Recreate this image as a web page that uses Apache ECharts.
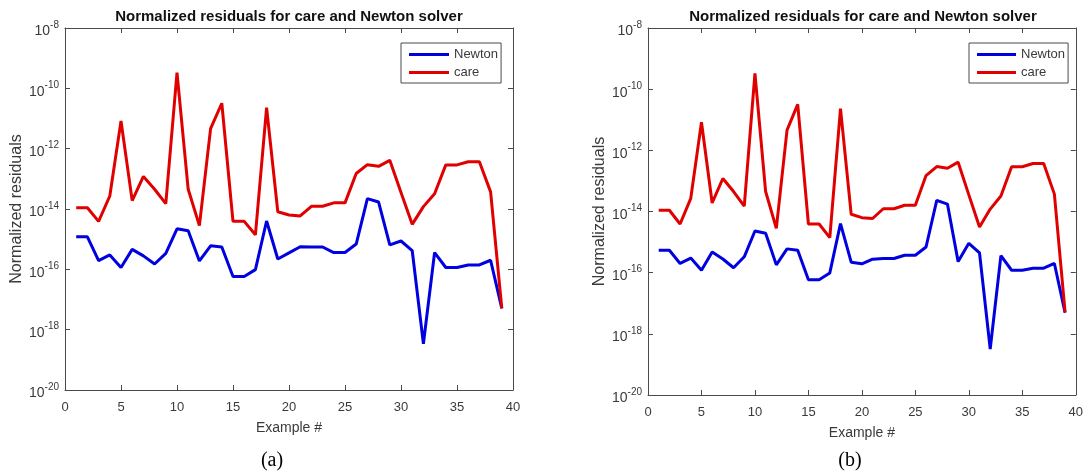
<!DOCTYPE html>
<html>
<head>
<meta charset="utf-8">
<script src="https://cdn.jsdelivr.net/npm/echarts@6/dist/echarts.min.js"></script>
<style>
	html, body { margin: 0; padding: 0; background: #fff; }
	#chart { width: 1086px; height: 475px; }
</style>
</head>
<body>
<div id="chart"></div>
<script>
// Example numbers on the x axis
var exampleNo = [1, 2, 3, 4, 5, 6, 7, 8, 9, 10, 11, 12, 13, 14, 15, 16, 17, 18, 19, 20,
	21, 22, 23, 24, 25, 26, 27, 28, 29, 30, 31, 32, 33, 34, 35, 36, 37, 38, 39];

// care residuals (same in both panels)
var careRes = [1.1e-14, 1.1e-14, 3.9e-15, 2.7e-14, 8.3e-12, 1.9e-14, 1.2e-13, 4.5e-14, 1.5e-14, 3.3e-10,
	4.5e-14, 2.8e-15, 4.6e-12, 3.2e-11, 3.9e-15, 3.9e-15, 1.4e-15, 2.3e-11, 8.1e-15, 6.3e-15,
	5.9e-15, 1.23e-14, 1.23e-14, 1.6e-14, 1.6e-14, 1.5e-13, 2.95e-13, 2.6e-13, 4.1e-13, 3.5e-14,
	3.1e-15, 1.2e-14, 3.2e-14, 2.9e-13, 2.9e-13, 3.7e-13, 3.7e-13, 3.7e-14, 5.1e-18];

// Newton residuals, panel (a)
var newtonResA = [1.2e-15, 1.2e-15, 1.95e-16, 3.0e-16, 1.15e-16, 4.6e-16, 2.8e-16, 1.5e-16, 3.4e-16, 2.2e-15,
	1.9e-15, 1.9e-16, 6.0e-16, 5.5e-16, 5.8e-17, 5.8e-17, 9.8e-17, 4.0e-15, 2.2e-16, 3.5e-16,
	5.6e-16, 5.5e-16, 5.5e-16, 3.6e-16, 3.6e-16, 6.9e-16, 2.2e-14, 1.7e-14, 6.5e-16, 8.7e-16,
	4.2e-16, 3.4e-19, 3.6e-16, 1.15e-16, 1.15e-16, 1.4e-16, 1.4e-16, 2.0e-16, 5.1e-18];

// Newton residuals, panel (b)
var newtonResB = [5.4e-16, 5.4e-16, 2.0e-16, 3.0e-16, 1.2e-16, 4.7e-16, 2.8e-16, 1.45e-16, 3.3e-16, 2.3e-15,
	1.95e-15, 1.8e-16, 6.0e-16, 5.4e-16, 5.9e-17, 5.9e-17, 9.8e-17, 4.0e-15, 2.2e-16, 1.95e-16,
	2.75e-16, 2.9e-16, 2.9e-16, 3.7e-16, 3.7e-16, 6.9e-16, 2.3e-14, 1.75e-14, 2.3e-16, 9.1e-16,
	4.4e-16, 3.2e-19, 3.6e-16, 1.2e-16, 1.2e-16, 1.4e-16, 1.4e-16, 2.0e-16, 4.9e-18];

var chartTitle = 'Normalized residuals for care and Newton solver';
var captions = ['(a)', '(b)'];

var FONT = "'Liberation Sans', Arial, sans-serif";
var AXIS_COLOR = '#4a4a4a';
var TEXT_COLOR = '#3a3a3a';

var pairs = function(ys) {
	return exampleNo.map(function(x, i) { return [x, ys[i]]; });
};

var grids = [
	{ left: 65, top: 28, width: 448, height: 362 },
	{ left: 648, top: 28, width: 430, height: 367 }
];

var xAxes = [], yAxes = [], series = [], legends = [], graphics = [];

grids.forEach(function(g, gi) {
	// bottom + top x axis
	[ 'bottom', 'top' ].forEach(function(pos) {
		xAxes.push({
			type: 'value',
			gridIndex: gi,
			position: pos,
			min: 0,
			max: 40,
			interval: 5,
			name: pos == 'bottom' ? 'Example #' : '',
			nameLocation: 'middle',
			nameGap: 31,
			nameTextStyle: { fontFamily: FONT, fontSize: 14, color: TEXT_COLOR },
			axisLine: { show: true, onZero: false, lineStyle: { color: AXIS_COLOR, width: 1 } },
			axisTick: { show: true, inside: true, length: 5, lineStyle: { color: AXIS_COLOR } },
			axisLabel: { show: pos == 'bottom', fontFamily: FONT, fontSize: 13, color: TEXT_COLOR, margin: 11 },
			splitLine: { show: false }
		});
	});
	// left + right log y axis (base 100 gives a tick every two decades)
	[ 'left', 'right' ].forEach(function(pos) {
		yAxes.push({
			type: 'log',
			logBase: 100,
			gridIndex: gi,
			position: pos,
			min: 1e-20,
			max: 1e-8,
			name: pos == 'left' ? 'Normalized residuals' : '',
			nameLocation: 'middle',
			nameGap: 39,
			nameRotate: 90,
			nameTextStyle: { fontFamily: FONT, fontSize: 16, color: TEXT_COLOR },
			axisLine: { show: true, onZero: false, lineStyle: { color: AXIS_COLOR, width: 1 } },
			axisTick: { show: true, inside: true, length: 5, lineStyle: { color: AXIS_COLOR } },
			axisLabel: {
				show: pos == 'left',
				margin: 6,
				color: TEXT_COLOR,
				formatter: function(v) {
					return '{b|10}{sup|' + Math.round(Math.log10(v)) + '}';
				},
				rich: {
					b: { fontFamily: FONT, fontSize: 14, color: TEXT_COLOR, padding: [7, 0, 0, 0] },
					sup: { fontFamily: FONT, fontSize: 10, color: TEXT_COLOR, padding: [0, 0, 6, 0] }
				}
			},
			splitLine: { show: false },
			minorTick: { show: false }
		});
	});

	var ys = gi == 0 ? newtonResA : newtonResB;
	series.push({
		name: 'Newton',
		type: 'line',
		xAxisIndex: gi * 2,
		yAxisIndex: gi * 2,
		data: pairs(ys),
		symbol: 'none',
		lineStyle: { color: '#0000e0', width: 3 },
		itemStyle: { color: '#0000e0' },
		animation: false
	});
	series.push({
		name: 'care',
		type: 'line',
		xAxisIndex: gi * 2,
		yAxisIndex: gi * 2,
		data: pairs(careRes),
		symbol: 'none',
		lineStyle: { color: '#e00000', width: 3 },
		itemStyle: { color: '#e00000' },
		animation: false
	});

	legends.push({
		data: ['Newton', 'care'],
		orient: 'vertical',
		left: gi == 0 ? 401 : 969,
		top: 43,
		icon: 'rect',
		itemWidth: gi == 0 ? 40 : 39,
		itemHeight: 3,
		itemGap: 3,
		padding: [4, 3, 3, 8],
		borderColor: AXIS_COLOR,
		borderWidth: 1,
		borderRadius: 0,
		backgroundColor: '#fff',
		textStyle: { fontFamily: FONT, fontSize: 13, color: TEXT_COLOR, lineHeight: 15 }
	});

	var cx = g.left + g.width / 2;
	graphics.push({
		type: 'text',
		x: cx,
		y: 17,
		style: { text: chartTitle, fontFamily: FONT, fontSize: 15, fontWeight: 'bold', fill: '#111', align: 'center', verticalAlign: 'middle' }
	});
	graphics.push({
		type: 'text',
		x: gi == 0 ? 272 : 850,
		y: 461,
		style: { text: captions[gi], fontFamily: "'Liberation Serif', 'Times New Roman', serif", fontSize: 20, fill: '#000', align: 'center', verticalAlign: 'middle' }
	});
});

var myChart = echarts.init(document.getElementById('chart'));
var option = {
	animation: false,
	backgroundColor: '#fff',
	grid: grids,
	xAxis: xAxes,
	yAxis: yAxes,
	legend: legends,
	series: series,
	graphic: graphics
};
myChart.setOption(option);
</script>
</body>
</html>
